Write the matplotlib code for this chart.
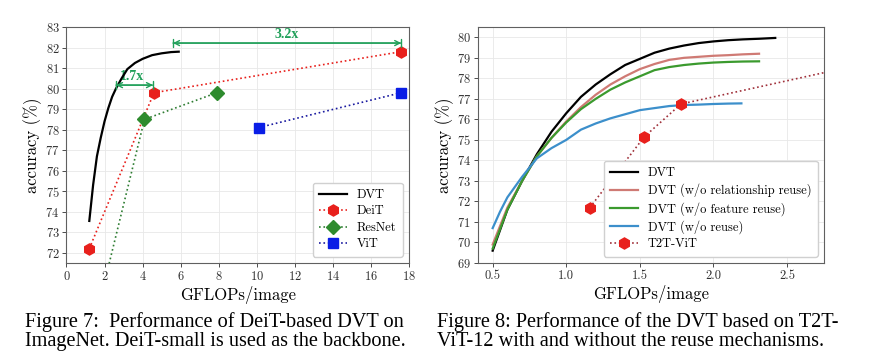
import matplotlib.pyplot as plt

plt.rcParams["font.family"] = "cmr10"
plt.rcParams["axes.formatter.use_mathtext"] = True
plt.rcParams["mathtext.fontset"] = "cm"

# ---- Figure 7: DeiT-based DVT ----
dvt_x = [1.2, 1.4, 1.6, 1.8, 2.0, 2.2, 2.4, 2.6, 2.9, 3.2, 3.6, 4.0, 4.5, 5.0, 5.5, 5.9]
dvt_y = [73.55, 75.3, 76.7, 77.6, 78.4, 79.05, 79.6, 80.0, 80.5, 80.95, 81.25, 81.45, 81.63, 81.72, 81.78, 81.8]
deit_x = [1.2, 4.6, 17.6]
deit_y = [72.2, 79.8, 81.8]
resnet_x = [1.8, 4.1, 7.9]
resnet_y = [69.8, 78.5, 79.8]
vit_x = [10.1, 17.6]
vit_y = [78.1, 79.8]

# ---- Figure 8: T2T-ViT-12 based DVT ----
gx = [0.5, 0.6, 0.7, 0.8, 0.9, 1.0, 1.1, 1.2, 1.3, 1.4, 1.5, 1.6, 1.7, 1.8, 1.9, 2.0, 2.1, 2.2, 2.31, 2.42]
dvt_full = [69.6, 71.6, 73.0, 74.3, 75.4, 76.3, 77.1, 77.7, 78.2, 78.65, 78.95, 79.25, 79.45, 79.6, 79.72, 79.8, 79.86, 79.9, 79.93, 79.97]
dvt_norel = [69.9, 71.7, 73.0, 74.2, 75.1, 75.9, 76.6, 77.2, 77.7, 78.1, 78.45, 78.7, 78.9, 79.0, 79.05, 79.1, 79.13, 79.17, 79.2]
dvt_nofeat = [69.7, 71.6, 73.0, 74.2, 75.1, 75.85, 76.5, 77.0, 77.45, 77.8, 78.1, 78.4, 78.55, 78.65, 78.72, 78.77, 78.8, 78.82, 78.83]
bx = [0.5, 0.55, 0.6, 0.7, 0.8, 0.9, 1.0, 1.1, 1.2, 1.3, 1.4, 1.5, 1.6, 1.7, 1.8, 1.9, 2.0, 2.1, 2.19]
dvt_noreuse = [70.7, 71.5, 72.2, 73.2, 74.1, 74.6, 75.0, 75.5, 75.8, 76.05, 76.25, 76.45, 76.55, 76.65, 76.7, 76.72, 76.75, 76.77, 76.78]
t2t_x = [1.16, 1.53, 1.78, 4.8]
t2t_y = [71.7, 75.15, 76.75, 81.5]

fig = plt.figure(figsize=(8.69, 3.58), dpi=100)
ax1 = fig.add_axes([0.0765, 0.2654, 0.394, 0.659])
ax2 = fig.add_axes([0.550, 0.2654, 0.398, 0.659])

for ax in (ax1, ax2):
    ax.grid(True, color="#e8e8e8", lw=0.6, zorder=0)
    ax.set_axisbelow(True)
    for s in ax.spines.values():
        s.set_color("#606060")
        s.set_linewidth(0.8)
    ax.tick_params(labelsize=9, length=3, width=0.6, colors="#303030", pad=2)

# --- left
ax1.plot(dvt_x, dvt_y, color="black", lw=1.6, label="DVT", zorder=4)
ax1.plot(deit_x, deit_y, ls=":", color="#e8201c", lw=1.2, marker="h", ms=8,
         mfc="#e8201c", mec="#e8201c", label="DeiT", zorder=3)
ax1.plot(resnet_x, resnet_y, ls=":", color="#2e7d32", lw=1.2, marker="D", ms=7,
         mfc="#2e8b2e", mec="#2e8b2e", label="ResNet", zorder=3)
ax1.plot(vit_x, vit_y, ls=":", color="#1a1aa0", lw=1.2, marker="s", ms=7,
         mfc="#0a1ee6", mec="#0a1ee6", label="ViT", zorder=3)

green = "#21a05a"


def span_arrow(ax, x0, x1, y):
    for style in ("<->", "|-|,widthA=0.35,widthB=0.35"):
        ax.annotate("", xy=(x1, y), xytext=(x0, y),
                    arrowprops=dict(arrowstyle=style, color=green, lw=1.0,
                                    shrinkA=0, shrinkB=0, mutation_scale=9),
                    zorder=5)


span_arrow(ax1, 5.6, 17.6, 82.22)
ax1.text(11.6, 82.33, "3.2x", color=green, fontsize=10, fontweight="bold",
         family="Liberation Serif", ha="center", va="bottom")
span_arrow(ax1, 2.6, 4.55, 80.17)
ax1.text(3.45, 80.28, "1.7x", color=green, fontsize=10, fontweight="bold",
         family="Liberation Serif", ha="center", va="bottom", zorder=2)

ax1.set_xlim(0, 18)
ax1.set_ylim(71.5, 83)
ax1.set_xticks(range(0, 19, 2))
ax1.set_yticks(range(72, 84))
ax1.set_xlabel("GFLOPs/image", fontsize=12, labelpad=2)
ax1.set_ylabel("accuracy (%)", fontsize=12, labelpad=2)
ax1.legend(loc="lower right", fontsize=9, framealpha=1, edgecolor="#d0d0d0",
           handlelength=2.2, borderpad=0.5, labelspacing=0.35)

# --- right
ax2.plot(gx, dvt_full, color="black", lw=1.6, label="DVT", zorder=3)
ax2.plot(gx[:19], dvt_norel, color="#cf7a74", lw=1.6,
         label="DVT (w/o relationship reuse)", zorder=3)
ax2.plot(gx[:19], dvt_nofeat, color="#3b9a2e", lw=1.6,
         label="DVT (w/o feature reuse)", zorder=3)
ax2.plot(bx, dvt_noreuse, color="#3c8fcb", lw=1.6,
         label="DVT (w/o reuse)", zorder=3)
ax2.plot(t2t_x, t2t_y, ls=":", color="#a0303a", lw=1.2, marker="h", ms=8,
         mfc="#e8201c", mec="#e8201c", label="T2T-ViT", zorder=4)

ax2.set_xlim(0.4, 2.75)
ax2.set_ylim(69, 80.5)
ax2.set_xticks([0.5, 1.0, 1.5, 2.0, 2.5])
ax2.set_xticklabels(["0.5", "1.0", "1.5", "2.0", "2.5"])
ax2.set_yticks(range(69, 81))
ax2.set_xlabel("GFLOPs/image", fontsize=12, labelpad=2)
ax2.set_ylabel("accuracy (%)", fontsize=12, labelpad=2)
ax2.legend(loc="lower right", fontsize=9, framealpha=1, edgecolor="#d0d0d0",
           handlelength=2.2, borderpad=0.5, labelspacing=0.35)

# --- captions
cap = dict(fontsize=14.6, family="Liberation Serif", ha="left", va="baseline")
fig.text(0.029, 0.087, "Figure 7:  Performance of DeiT-based DVT on", **cap)
fig.text(0.029, 0.033, "ImageNet. DeiT-small is used as the backbone.", **cap)
fig.text(0.503, 0.087, "Figure 8: Performance of the DVT based on T2T-", **cap)
fig.text(0.503, 0.033, "ViT-12 with and without the reuse mechanisms.", **cap)

fig.savefig("out.png", dpi=100)
